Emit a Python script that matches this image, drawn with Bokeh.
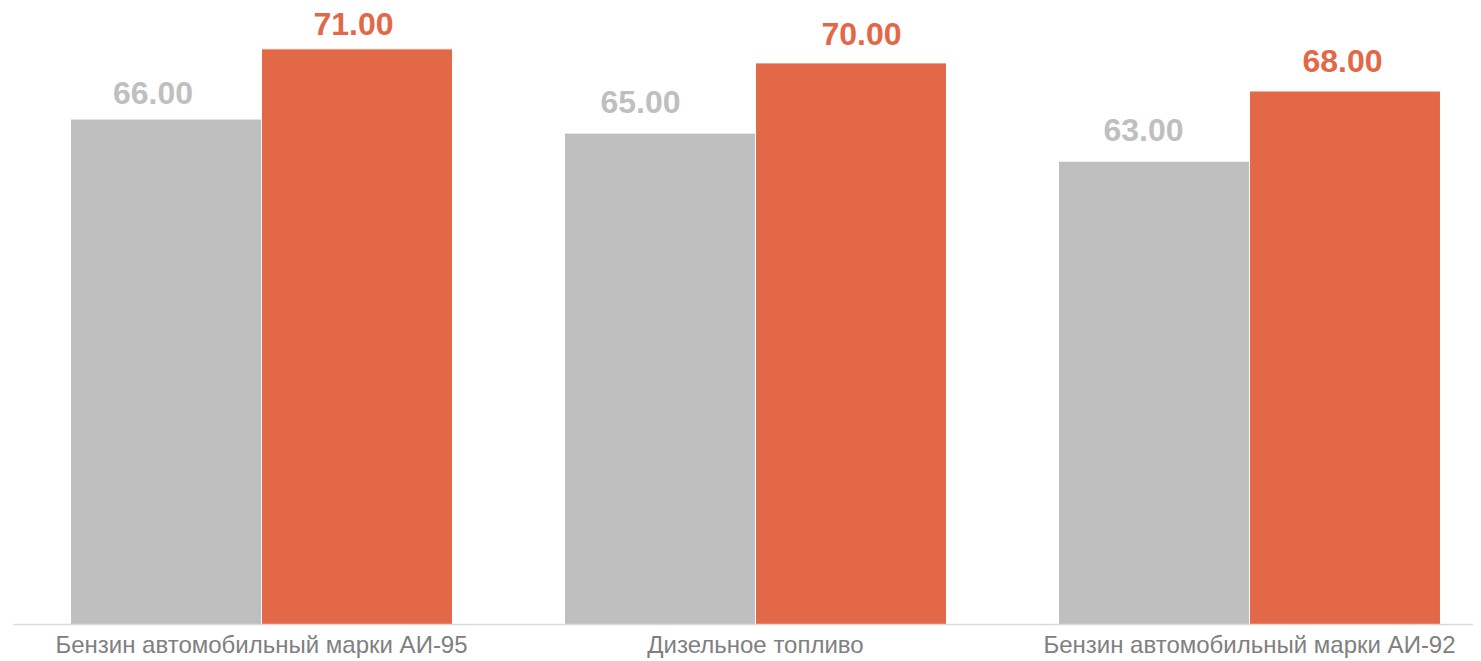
from bokeh.plotting import figure
from bokeh.models import Range1d, FixedTicker
from bokeh.core.properties import value
from bokeh.embed import file_html
from bokeh.resources import INLINE
import numpy as np

categories = ["Бензин автомобильный марки АИ-95", "Дизельное топливо", "Бензин автомобильный марки АИ-92"]
series_a = [66.00, 65.00, 63.00]   # gray series
series_b = [71.00, 70.00, 68.00]   # orange series

# label nudges (screen pixels), as placed in the original chart
label_dx_a = [-13, -19.5, -10.5]
label_gap_a = [14, 19, 19]
label_dx_b = [-3.5, 10.5, -2.5]
label_gap_b = [13, 17, 18]

GRAY = "#bfbfbf"
ORANGE = "#e26847"
FONT = "Liberation Sans"

PX_PER_CAT = 494.0
PX_PER_UNIT = 14.04
FRAME_W = 1460
FRAME_H = 624
x0 = 0.5 - 248 / PX_PER_CAT
BASE_SHIFT = 12

centers = np.arange(len(categories)) + 0.5
half = 0.1933
bw = 0.3866

p = figure(frame_width=FRAME_W, frame_height=FRAME_H, output_backend="svg", toolbar_location=None,
           x_range=Range1d(x0, x0 + FRAME_W / PX_PER_CAT),
           y_range=Range1d(30, 30 + FRAME_H / PX_PER_UNIT),
           y_axis_type=None, min_border_left=13, min_border_right=0,
           min_border_top=0, min_border_bottom=29)
p.outline_line_color = None
p.xgrid.visible = False
p.ygrid.visible = False
p.background_fill_color = "white"
p.border_fill_color = "white"

p.vbar(x=centers - half, top=series_a, bottom=30, width=bw, fill_color=GRAY,
       line_color="white", line_width=1)
p.vbar(x=centers + half, top=series_b, bottom=30, width=bw, fill_color=ORANGE,
       line_color="white", line_width=1)

for vals, dxs, gaps, col, sign in ((series_a, label_dx_a, label_gap_a, GRAY, -1),
                                   (series_b, label_dx_b, label_gap_b, ORANGE, 1)):
    for i, v in enumerate(vals):
        p.text(x=[centers[i] + sign * half], y=[v], text=[f"{v:.2f}"],
               text_align="center", text_baseline="alphabetic",
               x_offset=dxs[i], y_offset=-(gaps[i] + BASE_SHIFT),
               text_font=value(FONT), text_font_size="32px", text_font_style="bold",
               text_color=col)

ax = p.xaxis[0]
ax.ticker = FixedTicker(ticks=list(centers))
ax.major_label_overrides = {float(c): categories[i] for i, c in enumerate(centers)}
ax.major_tick_line_color = None
ax.minor_tick_line_color = None
ax.axis_line_color = "#d9d9d9"
ax.axis_line_width = 1.5
ax.major_label_standoff = 0
ax.major_label_text_font = FONT
ax.major_label_text_font_size = "24px"
ax.major_label_text_color = "#808080"

open("out.html", "w").write(file_html(p, INLINE))
